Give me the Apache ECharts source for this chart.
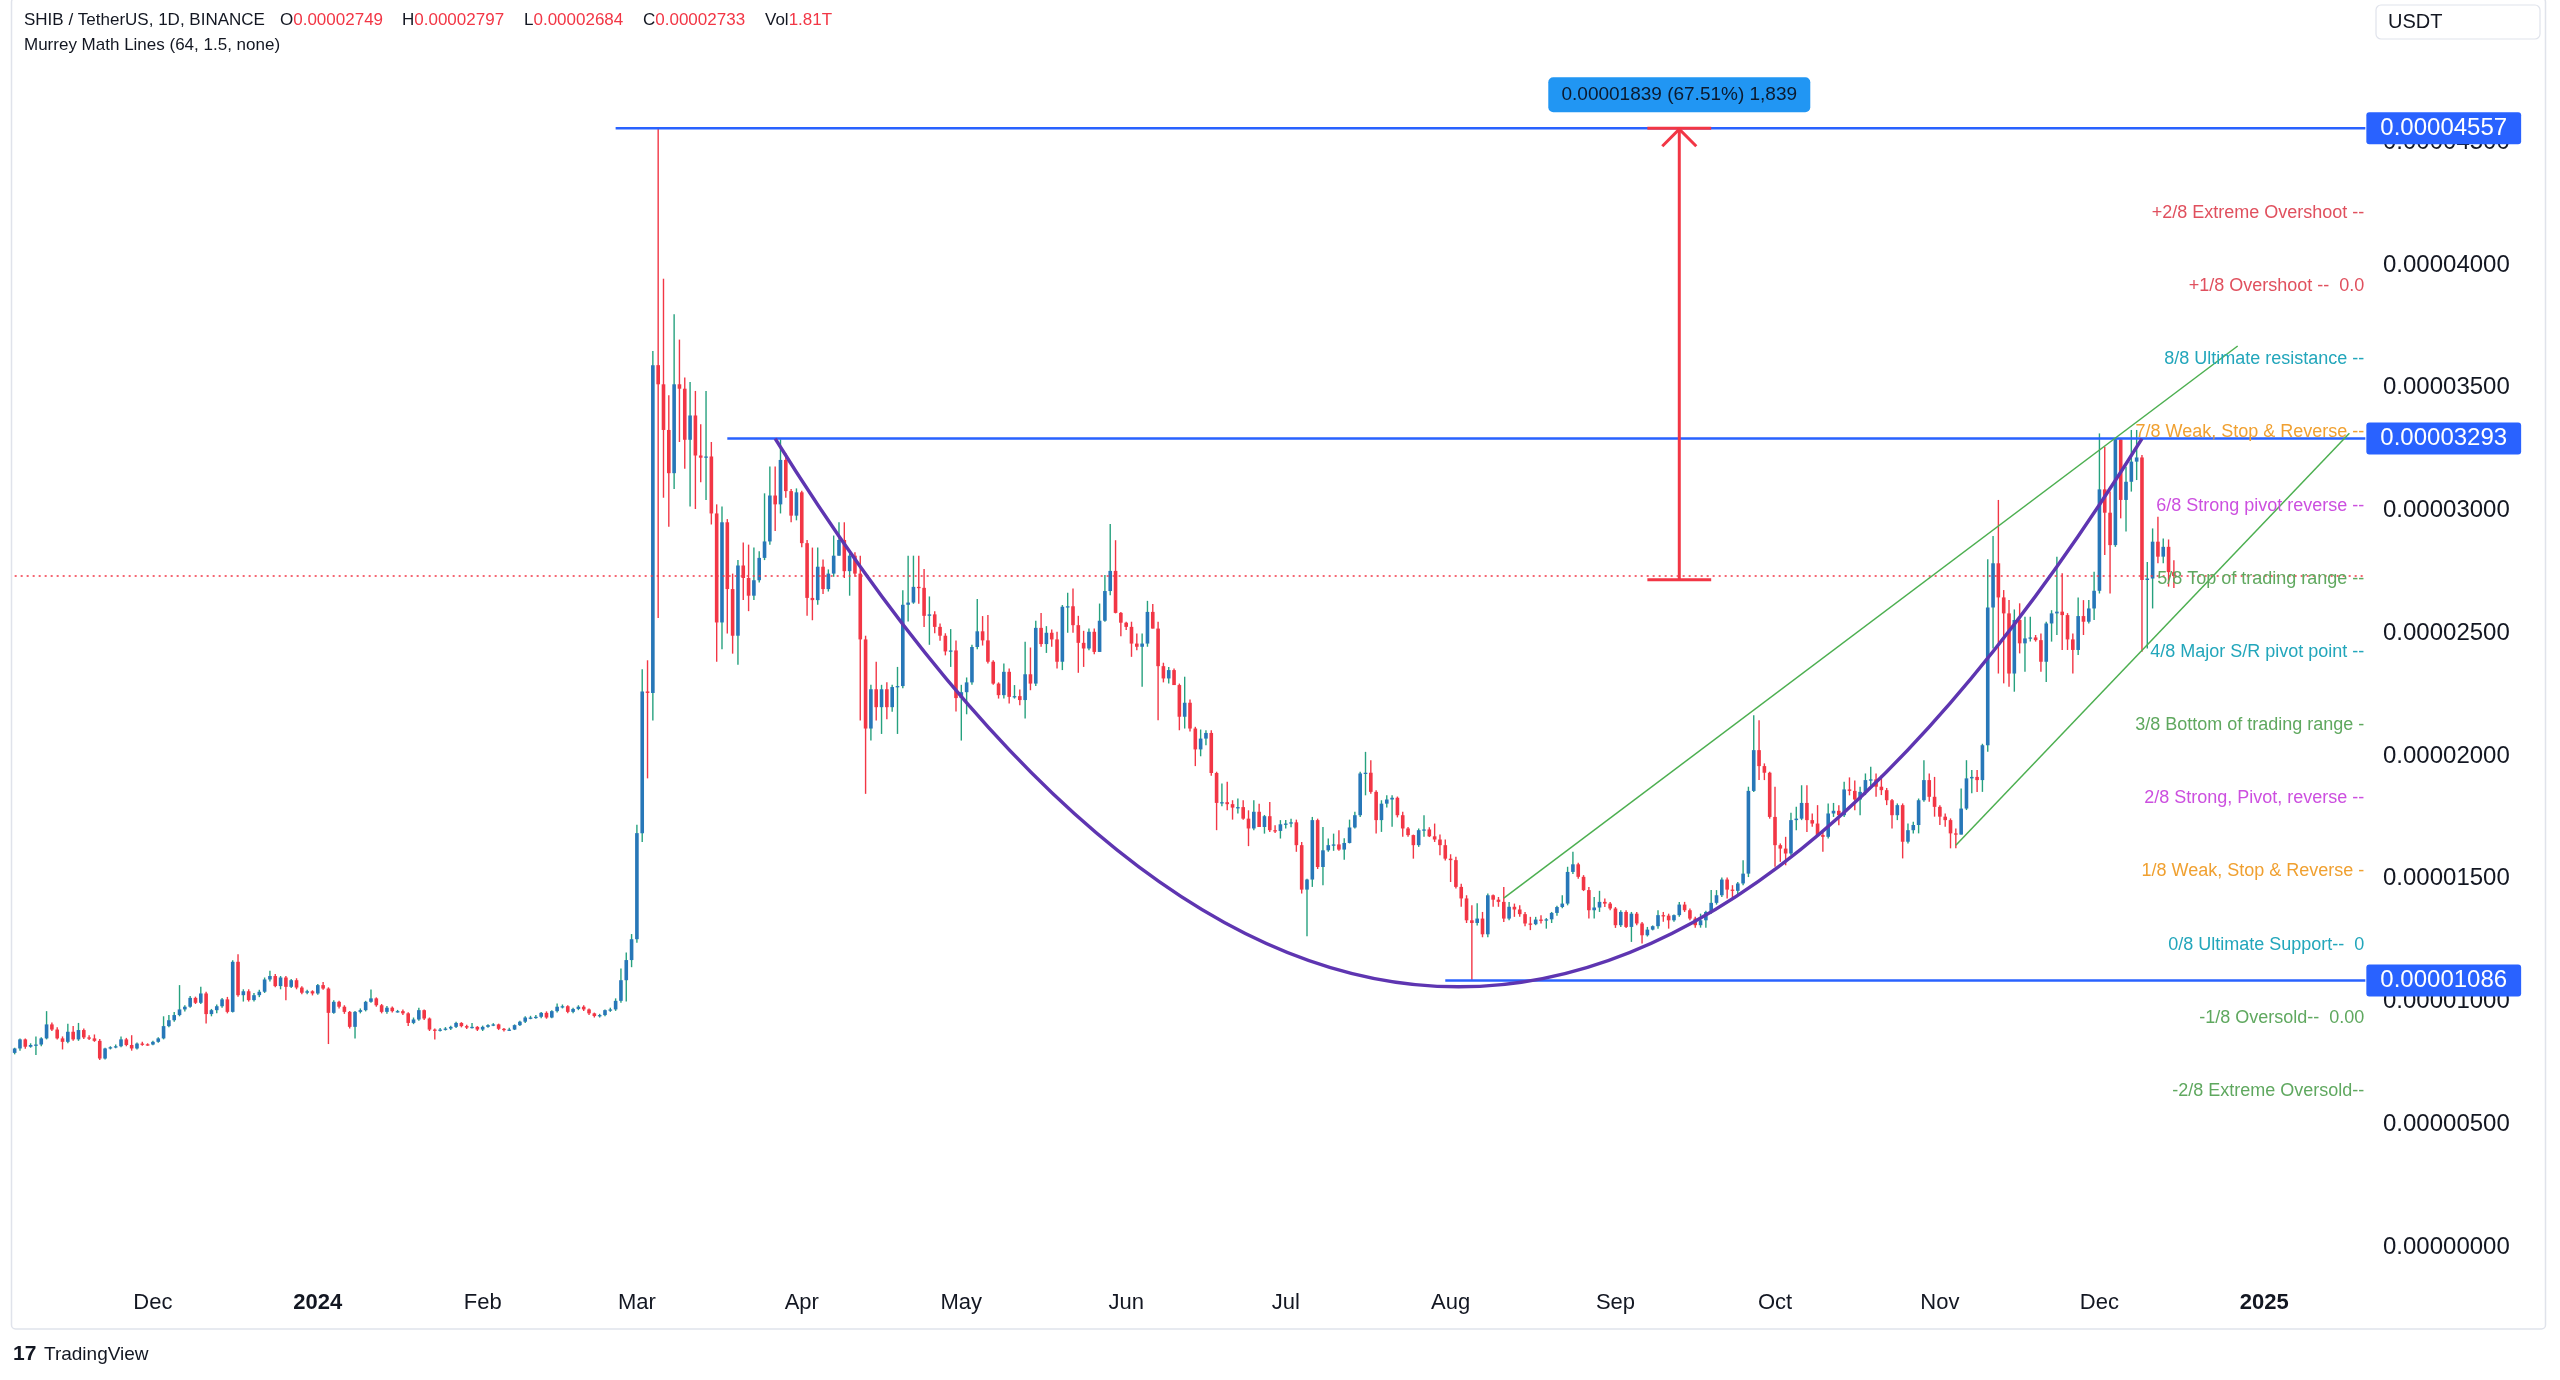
<!DOCTYPE html>
<html><head><meta charset="utf-8">
<script src="https://cdn.jsdelivr.net/npm/echarts@6/dist/echarts.min.js"></script>
<style>html,body{margin:0;padding:0;background:#fff;}#c{width:2560px;height:1380px;}</style>
</head><body><div id="c"></div>
<script>
// Prices are stored in units of 1e-8 USDT
const firstDay = '2023-11-05';
const lastAxisDay = '2025-01-20';

const open8 = [
791,809,846,816,823,825,850,907,886,850,
836,877,846,884,854,850,840,768,809,814,
818,846,823,809,829,826,825,836,850,900,
924,945,968,979,1015,995,1033,949,965,981,
1009,958,1162,1026,1042,1006,1026,1040,1090,1104,
1063,1098,1060,1087,1057,1036,1042,1033,1067,1053,
954,999,979,958,897,958,965,999,1013,985,
958,975,961,961,952,913,927,965,931,886,
884,886,890,897,913,900,894,897,886,897,
904,907,889,884,886,904,918,935,935,938,
954,935,961,979,981,958,970,979,968,952,
941,945,965,968,1003,1087,1169,1254,1686,2263,
2257,3592,3514,3328,3152,3514,3496,3288,3387,3224,
3215,3220,2988,2544,2952,2680,2490,2776,2725,2653,
2716,2807,2874,3061,3025,3206,3079,2979,3074,2867,
2644,2635,2771,2680,2743,2816,2880,2753,2816,2743,
2475,2112,2272,2199,2272,2199,2281,2285,2616,2625,
2689,2685,2571,2577,2526,2490,2426,2430,2236,2260,
2300,2444,2508,2471,2384,2295,2248,2343,2241,2244,
2228,2333,2295,2522,2456,2502,2475,2384,2608,2610,
2533,2461,2438,2506,2424,2551,2672,2754,2583,2543,
2526,2458,2445,2458,2587,2519,2366,2316,2350,2289,
2160,2217,2112,2027,2071,2094,1931,1809,1812,1804,
1790,1792,1745,1705,1773,1711,1755,1698,1695,1722,
1725,1730,1637,1456,1497,1739,1548,1616,1637,1640,
1619,1646,1709,1759,1929,1932,1854,1739,1806,1823,
1830,1759,1705,1678,1637,1698,1701,1673,1660,1637,
1582,1576,1467,1420,1331,1320,1338,1274,1433,1415,
1406,1338,1386,1375,1356,1318,1315,1334,1331,1335,
1361,1385,1399,1528,1559,1508,1454,1372,1383,1406,
1399,1379,1311,1365,1304,1358,1318,1270,1293,1307,
1352,1350,1331,1352,1395,1372,1338,1311,1331,1365,
1402,1433,1497,1456,1451,1481,1521,1858,2024,1959,
1932,1752,1637,1623,1603,1739,1745,1809,1739,1725,
1678,1671,1766,1777,1759,1864,1858,1823,1854,1902,
1905,1875,1861,1820,1759,1800,1651,1698,1719,1820,
1902,1834,1793,1753,1739,1685,1680,1786,1909,1915,
1902,2044,2605,2785,2646,2581,2336,2554,2459,2479,
2483,2472,2384,2540,2581,2588,2574,2475,2432,2570,
2547,2601,2673,3086,2991,2859,3290,3043,3117,3199,
3216,2717,2723,2873,2812,2852,2749
];
const close8 = [
809,846,816,823,825,850,907,886,850,836,
877,846,884,854,850,840,768,809,814,818,
846,823,809,829,826,825,836,850,900,924,
945,968,979,1015,995,1033,949,965,981,1009,
958,1162,1026,1042,1006,1026,1040,1090,1104,1063,
1098,1060,1087,1057,1036,1042,1033,1067,1053,954,
999,979,958,897,958,965,999,1013,985,958,
975,961,961,952,913,927,965,931,886,884,
886,890,897,913,900,894,897,886,897,904,
907,889,884,886,904,918,935,935,938,954,
935,961,979,981,958,970,979,968,952,941,
945,965,968,1003,1087,1169,1254,1686,2263,2257,
3592,3514,3328,3152,3514,3496,3288,3387,3224,3215,
3220,2988,2544,2952,2680,2490,2776,2725,2653,2716,
2807,2874,3061,3025,3206,3079,2979,3074,2867,2644,
2635,2771,2680,2743,2816,2880,2753,2816,2743,2475,
2112,2272,2199,2272,2199,2281,2285,2616,2625,2689,
2685,2571,2577,2526,2490,2426,2430,2236,2260,2300,
2444,2508,2471,2384,2295,2248,2343,2241,2244,2228,
2333,2295,2522,2456,2502,2475,2384,2608,2610,2533,
2461,2438,2506,2424,2551,2672,2754,2583,2543,2526,
2458,2445,2458,2587,2519,2366,2316,2350,2289,2160,
2217,2112,2027,2071,2094,1931,1809,1812,1804,1790,
1792,1745,1705,1773,1711,1755,1698,1695,1722,1725,
1730,1637,1456,1497,1739,1548,1616,1637,1640,1619,
1646,1709,1759,1929,1932,1854,1739,1806,1823,1830,
1759,1705,1678,1637,1698,1701,1673,1660,1637,1582,
1576,1467,1420,1331,1320,1338,1274,1433,1415,1406,
1338,1386,1375,1356,1318,1315,1334,1331,1335,1361,
1385,1399,1528,1559,1508,1454,1372,1383,1406,1399,
1379,1311,1365,1304,1358,1318,1270,1293,1307,1352,
1350,1331,1352,1395,1372,1338,1311,1331,1365,1402,
1433,1497,1456,1451,1481,1521,1858,2024,1959,1932,
1752,1637,1623,1603,1739,1745,1809,1739,1725,1678,
1671,1766,1777,1759,1864,1858,1823,1854,1902,1905,
1875,1861,1820,1759,1800,1651,1698,1719,1820,1902,
1834,1793,1753,1739,1685,1680,1786,1909,1915,1902,
2044,2605,2785,2646,2581,2336,2554,2459,2479,2483,
2472,2384,2540,2581,2588,2574,2475,2432,2570,2547,
2601,2673,3086,2991,2859,3290,3043,3117,3199,3216,
2717,2723,2873,2812,2852,2749,2733
];
const low8 = [
785,800,808,812,782,818,846,880,845,805,
830,840,840,848,843,836,762,764,805,810,
814,818,800,805,820,820,822,832,846,895,
918,940,960,975,990,990,911,940,952,975,
952,955,1020,1000,1000,1000,1018,1035,1082,1058,
1050,1005,1055,1050,1030,1030,1025,1028,1048,827,
950,972,950,890,850,952,960,995,979,952,
950,955,955,945,900,908,922,925,880,846,
878,882,884,892,895,888,890,880,880,893,
900,884,878,880,884,900,913,928,930,932,
930,932,955,972,952,952,965,962,945,935,
935,940,958,962,995,1000,1140,1240,1650,1909,
2145,2562,3052,2934,3088,3279,3170,3016,3006,3115,
3043,2943,2384,2435,2499,2417,2372,2635,2590,2635,
2707,2798,2861,2916,2988,3052,2952,2960,2850,2571,
2553,2616,2660,2670,2730,2816,2725,2653,2730,2145,
1846,2063,2145,2090,2150,2180,2090,2276,2548,2620,
2620,2526,2453,2500,2470,2410,2363,2181,2063,2170,
2290,2435,2450,2377,2290,2234,2234,2214,2234,2207,
2153,2268,2285,2445,2420,2445,2357,2350,2502,2502,
2339,2363,2431,2415,2424,2547,2655,2581,2488,2513,
2404,2431,2282,2445,2519,2146,2300,2295,2289,2105,
2112,2100,1959,1999,2044,1920,1698,1795,1779,1741,
1766,1740,1633,1698,1711,1684,1691,1687,1664,1705,
1710,1610,1440,1266,1467,1540,1474,1610,1614,1614,
1578,1644,1705,1752,1840,1846,1684,1691,1790,1712,
1750,1671,1671,1582,1630,1671,1670,1650,1596,1575,
1487,1460,1386,1320,1086,1310,1262,1262,1386,1386,
1324,1331,1345,1345,1307,1291,1311,1318,1297,1320,
1350,1380,1392,1520,1500,1450,1338,1338,1365,1385,
1372,1300,1304,1300,1243,1311,1236,1265,1290,1297,
1325,1297,1325,1345,1365,1331,1301,1301,1301,1358,
1395,1426,1420,1420,1433,1474,1507,1854,1902,1902,
1745,1549,1569,1555,1596,1698,1739,1691,1712,1671,
1610,1664,1752,1718,1752,1840,1779,1759,1841,1875,
1834,1841,1800,1705,1739,1583,1644,1685,1685,1814,
1814,1753,1719,1712,1624,1624,1680,1780,1848,1854,
1854,2017,2438,2336,2296,2282,2262,2418,2343,2466,
2466,2343,2302,2466,2493,2432,2432,2336,2411,2493,
2540,2554,2662,2819,2662,2852,2968,2914,3077,3124,
2425,2438,2601,2785,2785,2690,2684
];
const high8 = [
812,850,850,830,858,855,961,915,895,858,
910,900,913,890,863,866,848,812,818,825,
858,852,863,833,836,830,840,855,940,945,
958,1067,985,1023,1020,1060,1040,970,988,1015,
1019,1168,1193,1050,1050,1035,1048,1098,1125,1112,
1104,1104,1092,1095,1062,1048,1046,1072,1080,1058,
1005,1003,985,962,962,972,1003,1049,1017,990,
982,980,966,968,956,935,975,968,935,890,
892,896,902,918,916,906,913,900,902,908,
912,910,892,893,907,922,940,942,945,958,
960,965,992,988,985,975,985,985,972,955,
950,968,975,1013,1135,1200,1275,1720,2353,2390,
3650,4557,3944,3469,3799,3696,3542,3523,3487,3351,
3487,3279,3025,3016,2965,2743,2798,2870,2861,2849,
2834,3070,3179,3179,3290,3233,3088,3090,3080,2880,
2849,2849,2800,2760,2898,2952,2952,2825,2830,2816,
2490,2290,2384,2290,2300,2290,2363,2675,2816,2816,
2816,2762,2650,2590,2540,2500,2517,2471,2290,2320,
2453,2640,2570,2574,2390,2300,2377,2357,2289,2271,
2465,2442,2551,2583,2529,2515,2506,2615,2665,2682,
2571,2510,2519,2519,2621,2737,2945,2879,2587,2547,
2547,2499,2499,2632,2619,2547,2380,2363,2357,2295,
2323,2230,2119,2108,2105,2105,1936,1888,1895,1820,
1827,1820,1779,1820,1806,1760,1813,1718,1739,1739,
1745,1741,1650,1500,1752,1745,1711,1664,1684,1698,
1665,1741,1773,1936,2017,1983,1861,1820,1840,1840,
1835,1773,1711,1680,1705,1759,1710,1725,1680,1660,
1600,1590,1480,1433,1392,1400,1365,1440,1436,1426,
1467,1406,1399,1392,1365,1345,1345,1352,1340,1365,
1390,1433,1549,1610,1565,1515,1467,1426,1451,1420,
1406,1385,1372,1372,1365,1365,1324,1304,1310,1372,
1365,1358,1355,1406,1406,1379,1345,1358,1370,1454,
1454,1505,1505,1474,1487,1576,1875,2166,2146,1970,
1936,1875,1644,1671,1769,1793,1881,1881,1766,1800,
1690,1807,1809,1800,1895,1913,1900,1875,1929,1956,
1929,1922,1870,1825,1807,1807,1725,1732,1827,1983,
1929,1915,1800,1766,1746,1705,1868,1983,1943,1943,
2050,2801,2896,3043,2676,2635,2597,2622,2567,2567,
2493,2499,2547,2594,2812,2744,2582,2499,2646,2635,
2635,2751,3314,3260,3077,3294,3294,3178,3328,3328,
3226,2790,2927,2975,2886,2882,2797
];
const volumeText = '1.81T';

const priceTicks = [0, 500, 1000, 1500, 2000, 2500, 3000, 3500, 4000, 4500];
const monthNames = ['Jan','Feb','Mar','Apr','May','Jun','Jul','Aug','Sep','Oct','Nov','Dec'];

const keyLevels = [4557, 3293, 1086];
const keyLevelFrom = ['2024-02-26', '2024-03-18', '2024-07-31'];
const currentPrice = 2733;

const measureDay = '2024-09-13', measureCapFrom = '2024-09-07', measureCapTo = '2024-09-19';
const measureLow = 2718, measureHigh = 4557;
const measureText = '0.00001839 (67.51%) 1,839';

const cupStart = ['2024-03-27', 3293];
const cupBottomPrice = 1060;
const cupEnd = ['2024-12-09', 3293];

const channelUpper = [['2024-08-11', 1421], ['2024-12-27', 3670]];
const channelLower = [['2024-11-04', 1637], ['2025-01-17', 3315]];

const murreyLevels = [4212, 3914, 3616, 3318, 3020, 2722, 2424, 2126, 1828, 1530, 1232, 934, 636];
const murreyLabels = [
  '+2/8 Extreme Overshoot --',
  '+1/8 Overshoot --  0.0',
  '8/8 Ultimate resistance --',
  '7/8 Weak, Stop & Reverse --',
  '6/8 Strong pivot reverse --',
  '5/8 Top of trading range --',
  '4/8 Major S/R pivot point --',
  '3/8 Bottom of trading range -',
  '2/8 Strong, Pivot, reverse --',
  '1/8 Weak, Stop & Reverse -',
  '0/8 Ultimate Support--  0',
  '-1/8 Oversold--  0.00',
  '-2/8 Extreme Oversold--'
];

// ---------- styles ----------
const FONT = '"Liberation Sans", Arial, sans-serif';
const TXT = '#131722';
const RED = '#f23645';
const UP_BODY = '#2777b8';
const UP_WICK = '#26a17e';
const LINE_BLUE = '#2962ff';
const murreyColors = ['#e0505e','#e0505e','#22a6bb','#f0a030','#cc4fdf','#5fa85f','#22a6bb','#5fa85f','#cc4fdf','#f0a030','#22a6bb','#5fa85f','#5fa85f'];

// ---------- categories ----------
function buildDays(a, b) {
  const out = [];
  const d = new Date(a + 'T00:00:00Z');
  const end = new Date(b + 'T00:00:00Z');
  while (d <= end) { out.push(d.toISOString().slice(0, 10)); d.setUTCDate(d.getUTCDate() + 1); }
  return out;
}
const days = buildDays(firstDay, lastAxisDay);
const candles = open8.map((o, i) => [i, o, close8[i], low8[i], high8[i]]);
const fmt = v => (v / 1e8).toFixed(8);

const chart = echarts.init(document.getElementById('c'), null, { renderer: 'canvas' });

function hLine(price, from, to, style, tag) {
  const s = {
    type: 'line', silent: true, symbol: 'none', showSymbol: false, z: 5,
    data: [[from, price], [to, price]],
    lineStyle: style, animation: false
  };
  if (tag) {
    s.endLabel = {
      show: true, formatter: () => fmt(price), distance: 1,
      backgroundColor: LINE_BLUE, color: '#fff', fontSize: 24, fontFamily: FONT,
      lineHeight: 26, padding: [3, 14, 3, 14], borderRadius: 3
    };
  }
  return s;
}

const series = [
  {
    type: 'custom', name: 'SHIB', z: 3, animation: false, clip: true,
    data: candles,
    encode: { x: 0, y: [1, 2, 3, 4] },
    renderItem: function (params, api) {
      const x = api.value(0), o = api.value(1), c = api.value(2), l = api.value(3), h = api.value(4);
      const pO = api.coord([x, o]), pC = api.coord([x, c]), pL = api.coord([x, l]), pH = api.coord([x, h]);
      const bw = api.size([1, 0])[0] * 0.68;
      const up = c >= o;
      const top = Math.min(pO[1], pC[1]);
      const ht = Math.max(Math.abs(pO[1] - pC[1]), 1.3);
      return {
        type: 'group', children: [
          { type: 'line', shape: { x1: pH[0], y1: pH[1], x2: pL[0], y2: pL[1] }, style: { stroke: up ? UP_WICK : RED, lineWidth: 1.4 } },
          { type: 'rect', shape: { x: pO[0] - bw / 2, y: top, width: bw, height: ht }, style: { fill: up ? UP_BODY : RED } }
        ]
      };
    }
  },
  hLine(currentPrice, days[0], days[days.length - 1], { color: RED, width: 1.5, type: [2, 4] }, false),
  {
    type: 'line', silent: true, symbol: 'none', z: 6, animation: false,
    data: channelUpper, lineStyle: { color: '#4caf50', width: 1.5 }
  },
  {
    type: 'line', silent: true, symbol: 'none', z: 6, animation: false,
    data: channelLower, lineStyle: { color: '#4caf50', width: 1.5 }
  },
  {
    type: 'line', silent: true, symbol: 'none', z: 7, animation: false,
    data: [[measureDay, measureLow], [measureDay, measureHigh]], lineStyle: { color: RED, width: 3 }
  },
  {
    type: 'line', silent: true, symbol: 'none', z: 7, animation: false,
    data: [[measureCapFrom, measureLow], [measureCapTo, measureLow]], lineStyle: { color: RED, width: 3 }
  },
  {
    type: 'line', silent: true, symbol: 'none', z: 7, animation: false,
    data: [[measureCapFrom, measureHigh], [measureCapTo, measureHigh]], lineStyle: { color: RED, width: 3 }
  }
];
keyLevels.forEach((p, k) => series.push(hLine(p, keyLevelFrom[k], days[days.length - 1], { color: LINE_BLUE, width: 2.6 }, true)));

chart.setOption({
  animation: false,
  backgroundColor: '#ffffff',
  grid: { left: 12, right: 192, top: 2, height: 1278, containLabel: false },
  xAxis: {
    type: 'category', data: days, boundaryGap: true,
    axisLine: { show: false }, axisTick: { show: false }, splitLine: { show: false },
    axisLabel: {
      interval: (idx, val) => val.slice(8) === '01',
      formatter: val => {
        const m = +val.slice(5, 7);
        return m === 1 ? '{y|' + val.slice(0, 4) + '}' : monthNames[m - 1];
      },
      color: TXT, fontSize: 22, fontFamily: FONT, margin: 12,
      rich: { y: { fontWeight: 'bold', fontSize: 22, color: TXT, fontFamily: FONT } }
    }
  },
  yAxis: {
    type: 'value', position: 'right', min: -134, max: 5071, scale: true,
    axisLine: { show: false }, axisTick: { show: false }, splitLine: { show: false },
    axisLabel: {
      customValues: priceTicks, formatter: v => fmt(v),
      color: TXT, fontSize: 24, fontFamily: FONT, margin: 15, align: 'left'
    }
  },
  series: series
});

// ---------- annotations through the axes ----------
const px = p => chart.convertToPixel({ gridIndex: 0 }, p);
const g = [];
g.push({ type: 'rect', shape: { x: 11.5, y: -2, width: 2534, height: 1331, r: 4 }, style: { fill: 'none', stroke: '#e0e3eb', lineWidth: 1.5 }, z: 1, silent: true });

const P0 = px(cupStart), P2 = px(cupEnd);
const By = px([cupStart[0], cupBottomPrice])[1];
g.push({
  type: 'bezierCurve', silent: true, z: 50,
  shape: { x1: P0[0], y1: P0[1], x2: P2[0], y2: P2[1], cpx1: (P0[0] + P2[0]) / 2, cpy1: 2 * By - (P0[1] + P2[1]) / 2 },
  style: { stroke: '#5e35b1', lineWidth: 3.5, fill: 'none' }
});

const mTop = px([measureDay, measureHigh]);
g.push({ type: 'polyline', silent: true, z: 52, shape: { points: [[mTop[0] - 17, mTop[1] + 18], [mTop[0], mTop[1] + 1], [mTop[0] + 17, mTop[1] + 18]] }, style: { stroke: RED, lineWidth: 3, fill: 'none' } });
g.push({ type: 'rect', silent: true, z: 53, shape: { x: mTop[0] - 131, y: mTop[1] - 51, width: 262, height: 35, r: 5 }, style: { fill: '#2196f3' } });
g.push({ type: 'text', silent: true, z: 54, x: mTop[0], y: mTop[1] - 33, style: { text: measureText, fill: '#0c1a2e', fontSize: 19, fontFamily: FONT, align: 'center', verticalAlign: 'middle' } });

const rightEdge = px([days[days.length - 1], 0])[0];
murreyLevels.forEach((lv, k) => {
  const y = px([days[0], lv])[1];
  g.push({ type: 'text', silent: true, z: 45, x: rightEdge - 1, y: y, style: { text: murreyLabels[k], fill: murreyColors[k], fontSize: 18, fontFamily: FONT, align: 'right', verticalAlign: 'middle' } });
});

const last = open8.length - 1;
const hdr = (x, k, v) => ({
  type: 'text', silent: true, z: 60, x: x, y: 20,
  style: {
    text: '{k|' + k + '}{v|' + v + '}', fontSize: 17, fontFamily: FONT, verticalAlign: 'middle',
    rich: { k: { fill: TXT, color: TXT, fontSize: 17, fontFamily: FONT }, v: { fill: RED, color: RED, fontSize: 17, fontFamily: FONT } }
  }
});
g.push({ type: 'text', silent: true, z: 60, x: 24, y: 20, style: { text: 'SHIB / TetherUS, 1D, BINANCE', fill: TXT, fontSize: 17, fontFamily: FONT, verticalAlign: 'middle' } });
g.push(hdr(280, 'O', fmt(open8[last])));
g.push(hdr(402, 'H', fmt(high8[last])));
g.push(hdr(524, 'L', fmt(low8[last])));
g.push(hdr(643, 'C', fmt(close8[last])));
g.push(hdr(765, 'Vol', volumeText));
g.push({ type: 'text', silent: true, z: 60, x: 24, y: 45, style: { text: 'Murrey Math Lines (64, 1.5, none)', fill: TXT, fontSize: 17, fontFamily: FONT, verticalAlign: 'middle' } });

g.push({ type: 'rect', silent: true, z: 60, shape: { x: 2376, y: 5, width: 164, height: 34, r: 5 }, style: { fill: '#fff', stroke: '#e0e3eb', lineWidth: 1.2 } });
g.push({ type: 'text', silent: true, z: 61, x: 2388, y: 22, style: { text: 'USDT', fill: TXT, fontSize: 20, fontFamily: FONT, verticalAlign: 'middle' } });

g.push({ type: 'text', silent: true, z: 60, x: 13, y: 1354, style: { text: '17', fill: TXT, fontSize: 21, fontWeight: 'bold', fontFamily: FONT, verticalAlign: 'middle' } });
g.push({ type: 'text', silent: true, z: 60, x: 44, y: 1355, style: { text: 'TradingView', fill: TXT, fontSize: 19, fontFamily: FONT, verticalAlign: 'middle' } });

chart.setOption({ graphic: { elements: g } });
</script>
</body></html>
